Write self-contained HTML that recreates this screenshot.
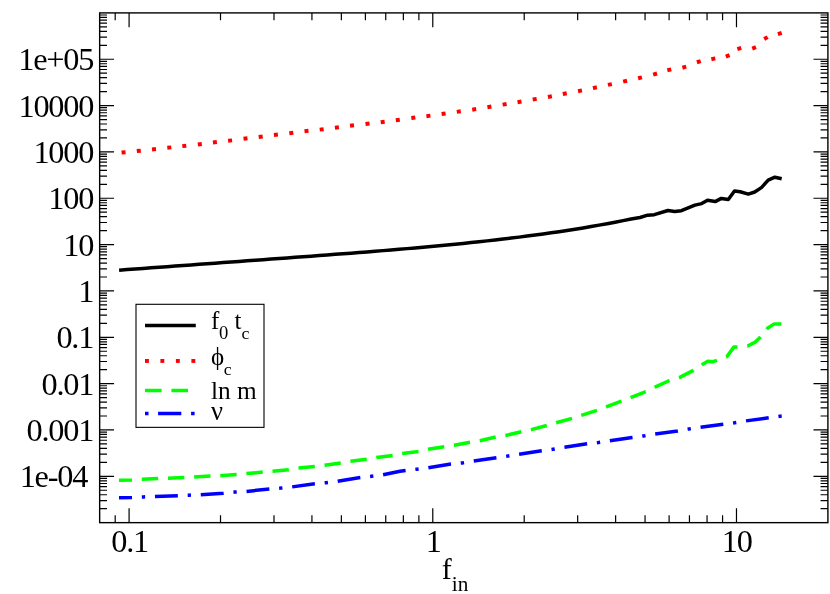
<!DOCTYPE html>
<html><head><meta charset="utf-8"><title>plot</title>
<style>html,body{margin:0;padding:0;background:#fff}svg{display:block;filter:opacity(1)}text{font-family:"Liberation Serif",serif;fill:#000}</style></head><body>
<svg width="830" height="594" viewBox="0 0 830 594">
<rect x="0" y="0" width="830" height="594" fill="#fff"/>
<path d="M115.19 522.65v-7.35M115.19 12.9v7.35M129.09 522.65v-14.4M129.09 12.9v14.4M220.51 522.65v-7.35M220.51 12.9v7.35M273.99 522.65v-7.35M273.99 12.9v7.35M311.93 522.65v-7.35M311.93 12.9v7.35M341.36 522.65v-7.35M341.36 12.9v7.35M365.41 522.65v-7.35M365.41 12.9v7.35M385.74 522.65v-7.35M385.74 12.9v7.35M403.35 522.65v-7.35M403.35 12.9v7.35M418.89 522.65v-7.35M418.89 12.9v7.35M432.78 522.65v-14.4M432.78 12.9v14.4M524.21 522.65v-7.35M524.21 12.9v7.35M577.68 522.65v-7.35M577.68 12.9v7.35M615.63 522.65v-7.35M615.63 12.9v7.35M645.06 522.65v-7.35M645.06 12.9v7.35M669.10 522.65v-7.35M669.10 12.9v7.35M689.44 522.65v-7.35M689.44 12.9v7.35M707.05 522.65v-7.35M707.05 12.9v7.35M722.58 522.65v-7.35M722.58 12.9v7.35M736.48 522.65v-14.4M736.48 12.9v14.4M99.66 508.70h7.35M827.9 508.70h-7.35M99.66 500.54h7.35M827.9 500.54h-7.35M99.66 494.75h7.35M827.9 494.75h-7.35M99.66 490.26h7.35M827.9 490.26h-7.35M99.66 486.59h7.35M827.9 486.59h-7.35M99.66 483.49h7.35M827.9 483.49h-7.35M99.66 480.80h7.35M827.9 480.80h-7.35M99.66 478.43h7.35M827.9 478.43h-7.35M99.66 476.31h14.4M827.9 476.31h-14.4M99.66 462.36h7.35M827.9 462.36h-7.35M99.66 454.20h7.35M827.9 454.20h-7.35M99.66 448.41h7.35M827.9 448.41h-7.35M99.66 443.92h7.35M827.9 443.92h-7.35M99.66 440.25h7.35M827.9 440.25h-7.35M99.66 437.15h7.35M827.9 437.15h-7.35M99.66 434.46h7.35M827.9 434.46h-7.35M99.66 432.09h7.35M827.9 432.09h-7.35M99.66 429.97h14.4M827.9 429.97h-14.4M99.66 416.02h7.35M827.9 416.02h-7.35M99.66 407.86h7.35M827.9 407.86h-7.35M99.66 402.07h7.35M827.9 402.07h-7.35M99.66 397.58h7.35M827.9 397.58h-7.35M99.66 393.91h7.35M827.9 393.91h-7.35M99.66 390.81h7.35M827.9 390.81h-7.35M99.66 388.12h7.35M827.9 388.12h-7.35M99.66 385.75h7.35M827.9 385.75h-7.35M99.66 383.63h14.4M827.9 383.63h-14.4M99.66 369.68h7.35M827.9 369.68h-7.35M99.66 361.52h7.35M827.9 361.52h-7.35M99.66 355.73h7.35M827.9 355.73h-7.35M99.66 351.24h7.35M827.9 351.24h-7.35M99.66 347.57h7.35M827.9 347.57h-7.35M99.66 344.46h7.35M827.9 344.46h-7.35M99.66 341.78h7.35M827.9 341.78h-7.35M99.66 339.41h7.35M827.9 339.41h-7.35M99.66 337.29h14.4M827.9 337.29h-14.4M99.66 323.34h7.35M827.9 323.34h-7.35M99.66 315.18h7.35M827.9 315.18h-7.35M99.66 309.39h7.35M827.9 309.39h-7.35M99.66 304.90h7.35M827.9 304.90h-7.35M99.66 301.23h7.35M827.9 301.23h-7.35M99.66 298.12h7.35M827.9 298.12h-7.35M99.66 295.44h7.35M827.9 295.44h-7.35M99.66 293.07h7.35M827.9 293.07h-7.35M99.66 290.95h14.4M827.9 290.95h-14.4M99.66 277.00h7.35M827.9 277.00h-7.35M99.66 268.84h7.35M827.9 268.84h-7.35M99.66 263.05h7.35M827.9 263.05h-7.35M99.66 258.55h7.35M827.9 258.55h-7.35M99.66 254.89h7.35M827.9 254.89h-7.35M99.66 251.78h7.35M827.9 251.78h-7.35M99.66 249.10h7.35M827.9 249.10h-7.35M99.66 246.72h7.35M827.9 246.72h-7.35M99.66 244.60h14.4M827.9 244.60h-14.4M99.66 230.65h7.35M827.9 230.65h-7.35M99.66 222.49h7.35M827.9 222.49h-7.35M99.66 216.70h7.35M827.9 216.70h-7.35M99.66 212.21h7.35M827.9 212.21h-7.35M99.66 208.54h7.35M827.9 208.54h-7.35M99.66 205.44h7.35M827.9 205.44h-7.35M99.66 202.75h7.35M827.9 202.75h-7.35M99.66 200.38h7.35M827.9 200.38h-7.35M99.66 198.26h14.4M827.9 198.26h-14.4M99.66 184.31h7.35M827.9 184.31h-7.35M99.66 176.15h7.35M827.9 176.15h-7.35M99.66 170.36h7.35M827.9 170.36h-7.35M99.66 165.87h7.35M827.9 165.87h-7.35M99.66 162.20h7.35M827.9 162.20h-7.35M99.66 159.10h7.35M827.9 159.10h-7.35M99.66 156.41h7.35M827.9 156.41h-7.35M99.66 154.04h7.35M827.9 154.04h-7.35M99.66 151.92h14.4M827.9 151.92h-14.4M99.66 137.97h7.35M827.9 137.97h-7.35M99.66 129.81h7.35M827.9 129.81h-7.35M99.66 124.02h7.35M827.9 124.02h-7.35M99.66 119.53h7.35M827.9 119.53h-7.35M99.66 115.86h7.35M827.9 115.86h-7.35M99.66 112.76h7.35M827.9 112.76h-7.35M99.66 110.07h7.35M827.9 110.07h-7.35M99.66 107.70h7.35M827.9 107.70h-7.35M99.66 105.58h14.4M827.9 105.58h-14.4M99.66 91.63h7.35M827.9 91.63h-7.35M99.66 83.47h7.35M827.9 83.47h-7.35M99.66 77.68h7.35M827.9 77.68h-7.35M99.66 73.19h7.35M827.9 73.19h-7.35M99.66 69.52h7.35M827.9 69.52h-7.35M99.66 66.42h7.35M827.9 66.42h-7.35M99.66 63.73h7.35M827.9 63.73h-7.35M99.66 61.36h7.35M827.9 61.36h-7.35M99.66 59.24h14.4M827.9 59.24h-14.4M99.66 45.29h7.35M827.9 45.29h-7.35M99.66 37.13h7.35M827.9 37.13h-7.35M99.66 31.34h7.35M827.9 31.34h-7.35M99.66 26.85h7.35M827.9 26.85h-7.35M99.66 23.18h7.35M827.9 23.18h-7.35M99.66 20.08h7.35M827.9 20.08h-7.35M99.66 17.39h7.35M827.9 17.39h-7.35M99.66 15.02h7.35M827.9 15.02h-7.35" stroke="#000" stroke-width="1.2" fill="none"/>
<rect x="99.66" y="12.9" width="728.24" height="509.75" fill="none" stroke="#000" stroke-width="1.4"/>
<text x="93.2" y="70.24" font-size="32.3" letter-spacing="-1.2" text-anchor="end">1e+05</text>
<text x="93.2" y="116.58" font-size="32.3" letter-spacing="-1.2" text-anchor="end">10000</text>
<text x="93.2" y="162.92" font-size="32.3" letter-spacing="-1.2" text-anchor="end">1000</text>
<text x="93.2" y="209.26" font-size="32.3" letter-spacing="-1.2" text-anchor="end">100</text>
<text x="93.2" y="255.60" font-size="32.3" letter-spacing="-1.2" text-anchor="end">10</text>
<text x="93.2" y="301.95" font-size="32.3" letter-spacing="-1.2" text-anchor="end">1</text>
<text x="93.2" y="348.29" font-size="32.3" letter-spacing="-1.2" text-anchor="end">0.1</text>
<text x="93.2" y="394.63" font-size="32.3" letter-spacing="-1.2" text-anchor="end">0.01</text>
<text x="93.2" y="440.97" font-size="32.3" letter-spacing="-1.2" text-anchor="end">0.001</text>
<text x="87.2" y="487.31" font-size="32.3" letter-spacing="-1.2" text-anchor="end">1e-04</text>
<text x="129.69" y="551.6" font-size="32.3" letter-spacing="-1.2" text-anchor="middle">0.1</text>
<text x="433.18" y="551.6" font-size="32.3" letter-spacing="-1.2" text-anchor="middle">1</text>
<text x="736.68" y="551.6" font-size="32.3" letter-spacing="-1.2" text-anchor="middle">10</text>
<text x="441.8" y="579.3" font-size="30">f<tspan font-size="21.3" dy="12">in</tspan></text>
<path d="M119.10 270.16L127.10 269.58L135.10 268.99L143.10 268.41L151.10 267.82L159.10 267.24L167.10 266.65L175.10 266.07L183.10 265.48L191.10 264.90L199.10 264.31L207.10 263.73L215.10 263.15L223.10 262.57L231.10 261.99L239.10 261.41L247.10 260.83L255.10 260.25L263.10 259.67L271.10 259.09L279.10 258.50L287.10 257.92L295.10 257.34L303.10 256.75L311.10 256.16L319.10 255.57L327.10 254.97L335.10 254.37L343.10 253.76L351.10 253.15L359.10 252.53L367.10 251.90L375.10 251.26L383.10 250.62L391.10 249.96L399.10 249.30L407.10 248.62L415.10 247.92L423.10 247.22L431.10 246.49L439.10 245.75L447.10 244.99L455.10 244.22L463.10 243.42L471.10 242.60L479.10 241.75L487.10 240.88L495.10 239.99L503.10 239.06L511.10 238.11L519.10 237.12L527.10 236.10L535.10 235.05L543.10 233.96L551.10 232.83L559.10 231.66L567.10 230.45L575.10 229.20L583.10 227.90L591.10 226.55L599.10 225.15L607.10 223.70L615.10 222.19L623.10 220.63L631.10 219.01L640.00 217.50L647.60 215.20L654.30 214.70L668.00 210.50L674.70 211.50L681.40 210.70L694.90 205.10L701.70 203.60L707.50 200.30L715.20 201.60L721.30 198.40L728.30 199.50L734.50 191.00L740.20 191.80L748.30 194.10L754.70 192.00L761.40 187.60L768.20 180.10L774.90 177.20L781.70 178.70" stroke="#000" stroke-width="3.5" fill="none" stroke-linejoin="round"/>
<path d="M119.00 480.20L131.90 479.90L141.70 479.30L158.10 478.60L167.80 478.30L184.20 477.50L194.00 477.10L210.50 476.10L220.10 475.80L236.50 474.40L246.40 473.60L262.70 472.10L272.40 471.30L288.80 469.70L298.40 468.00L314.80 466.50L324.40 465.30L340.80 463.00L350.50 461.30L366.80 459.30L376.50 457.40L392.80 455.40L402.20 453.40L418.60 451.50L428.20 449.20L444.20 446.70L454.20 445.30L470.00 442.20L479.90 440.70L496.00 437.00L505.50 435.50L521.60 431.70L531.20 429.60L547.00 425.50L556.20 422.80L572.00 418.40L581.30 415.30L597.10 410.30L606.20 406.80L621.60 401.00L630.50 397.60L646.30 391.40L655.00 387.10L669.50 380.50L679.80 377.40L693.40 370.40L702.40 364.40L707.80 361.30L712.90 361.70L716.90 360.40L726.80 356.80L734.00 346.90L737.10 346.90L747.60 346.00L754.80 342.40L760.20 337.30L767.50 328.30L774.30 323.90L781.60 323.90" stroke="#0f0" stroke-width="3.5" fill="none" stroke-linejoin="round" stroke-dasharray="16.4 9.8" stroke-dashoffset="3.4"/>
<path d="M119.00 497.70L132.00 497.40L143.40 496.90L154.90 496.50L177.80 495.70L189.20 495.20L200.70 494.70L223.50 493.30L235.00 492.10L246.40 491.40L269.30 489.00L280.60 488.10L292.00 486.90L314.80 483.80L326.10 482.70L337.50 481.30L360.30 477.60L371.60 476.30L383.00 474.80L400.00 471.30L416.80 469.20L428.20 467.70L450.90 464.00L462.30 462.90L473.70 461.10L496.40 457.70L507.80 456.10L519.20 454.20L540.00 451.10L553.00 449.20L564.30 447.30L587.10 443.80L598.40 442.50L609.80 440.80L632.20 437.50L643.70 435.90L655.00 434.05L677.80 431.00L689.00 428.90L700.20 427.20L723.20 424.20L734.60 422.70L745.80 420.90L768.70 417.80L780.10 416.20L781.90 416.00" stroke="#00f" stroke-width="3.5" fill="none" stroke-linejoin="round" stroke-dasharray="22.93 9.82 3.3 9.82" stroke-dashoffset="9.9"/>
<g fill="#f00"><rect x="-2" y="-2" width="4" height="4" transform="translate(123.55 152.40) rotate(-5.8)"/><rect x="-2" y="-2" width="4" height="4" transform="translate(138.80 150.90) rotate(-6.0)"/><rect x="-2" y="-2" width="4" height="4" transform="translate(154.00 149.20) rotate(-6.2)"/><rect x="-2" y="-2" width="4" height="4" transform="translate(169.30 147.60) rotate(-6.2)"/><rect x="-2" y="-2" width="4" height="4" transform="translate(184.30 145.90) rotate(-6.4)"/><rect x="-2" y="-2" width="4" height="4" transform="translate(199.80 144.20) rotate(-6.9)"/><rect x="-2" y="-2" width="4" height="4" transform="translate(214.90 142.20) rotate(-6.8)"/><rect x="-2" y="-2" width="4" height="4" transform="translate(230.10 140.60) rotate(-6.7)"/><rect x="-2" y="-2" width="4" height="4" transform="translate(245.50 138.60) rotate(-7.3)"/><rect x="-2" y="-2" width="4" height="4" transform="translate(260.70 136.70) rotate(-7.1)"/><rect x="-2" y="-2" width="4" height="4" transform="translate(275.90 134.80) rotate(-7.1)"/><rect x="-2" y="-2" width="4" height="4" transform="translate(291.30 132.90) rotate(-7.1)"/><rect x="-2" y="-2" width="4" height="4" transform="translate(306.50 131.00) rotate(-6.6)"/><rect x="-2" y="-2" width="4" height="4" transform="translate(321.70 129.40) rotate(-6.8)"/><rect x="-2" y="-2" width="4" height="4" transform="translate(336.90 127.40) rotate(-7.3)"/><rect x="-2" y="-2" width="4" height="4" transform="translate(352.00 125.50) rotate(-6.7)"/><rect x="-2" y="-2" width="4" height="4" transform="translate(367.50 123.80) rotate(-6.7)"/><rect x="-2" y="-2" width="4" height="4" transform="translate(382.70 121.90) rotate(-7.1)"/><rect x="-2" y="-2" width="4" height="4" transform="translate(397.80 120.00) rotate(-7.6)"/><rect x="-2" y="-2" width="4" height="4" transform="translate(413.30 117.80) rotate(-7.6)"/><rect x="-2" y="-2" width="4" height="4" transform="translate(428.40 115.90) rotate(-7.7)"/><rect x="-2" y="-2" width="4" height="4" transform="translate(443.60 113.70) rotate(-8.1)"/><rect x="-2" y="-2" width="4" height="4" transform="translate(458.80 111.60) rotate(-8.0)"/><rect x="-2" y="-2" width="4" height="4" transform="translate(474.20 109.40) rotate(-8.7)"/><rect x="-2" y="-2" width="4" height="4" transform="translate(489.40 106.90) rotate(-9.5)"/><rect x="-2" y="-2" width="4" height="4" transform="translate(504.60 104.30) rotate(-9.4)"/><rect x="-2" y="-2" width="4" height="4" transform="translate(519.50 101.90) rotate(-9.6)"/><rect x="-2" y="-2" width="4" height="4" transform="translate(534.70 99.20) rotate(-9.9)"/><rect x="-2" y="-2" width="4" height="4" transform="translate(549.90 96.60) rotate(-10.4)"/><rect x="-2" y="-2" width="4" height="4" transform="translate(564.80 93.70) rotate(-10.9)"/><rect x="-2" y="-2" width="4" height="4" transform="translate(580.00 90.80) rotate(-11.3)"/><rect x="-2" y="-2" width="4" height="4" transform="translate(594.90 87.70) rotate(-11.9)"/><rect x="-2" y="-2" width="4" height="4" transform="translate(609.90 84.50) rotate(-12.1)"/><rect x="-2" y="-2" width="4" height="4" transform="translate(625.10 81.20) rotate(-12.5)"/><rect x="-2" y="-2" width="4" height="4" transform="translate(640.00 77.80) rotate(-13.4)"/><rect x="-2" y="-2" width="4" height="4" transform="translate(655.10 74.05) rotate(-15.3)"/><rect x="-2" y="-2" width="4" height="4" transform="translate(669.30 69.80) rotate(-13.2)"/><rect x="-2" y="-2" width="4" height="4" transform="translate(684.30 67.20) rotate(-15.4)"/><rect x="-2" y="-2" width="4" height="4" transform="translate(698.80 61.70) rotate(-16.2)"/><rect x="-2" y="-2" width="4" height="4" transform="translate(713.30 58.80) rotate(-11.3)"/><rect x="-2" y="-2" width="4" height="4" transform="translate(727.70 55.90) rotate(-21.6)"/><rect x="-2" y="-2" width="4" height="4" transform="translate(739.30 48.50) rotate(-17.1)"/><rect x="-2" y="-2" width="4" height="4" transform="translate(754.10 47.80) rotate(-21.4)"/><rect x="-2" y="-2" width="4" height="4" transform="translate(765.90 38.10) rotate(-29.1)"/><rect x="-2" y="-2" width="4" height="4" transform="translate(779.80 33.50) rotate(-17.9)"/></g>
<rect x="136.0" y="304.3" width="128.0" height="123.05" fill="#fff" stroke="#000" stroke-width="1.1"/>
<path d="M145 325.4H195.8" stroke="#000" stroke-width="3.5"/>
<g fill="#f00"><rect x="145" y="359.0" width="3.9" height="3.9"/><rect x="160.4" y="359.0" width="3.9" height="3.9"/><rect x="175.9" y="359.0" width="3.9" height="3.9"/><rect x="191.4" y="359.0" width="3.9" height="3.9"/></g>
<path d="M145 390.6H161.6M171.4 390.6H188.0" stroke="#0f0" stroke-width="3.5"/>
<path d="M145 413.6H148.5M158.1 413.6H181.3M191.1 413.6H194.6" stroke="#00f" stroke-width="3.5"/>
<text x="211" y="328.9" font-size="25">f<tspan font-size="18.6" dx="-0.3" dy="10">0</tspan><tspan dy="-10"> t</tspan><tspan font-size="17.75" dy="10">c</tspan></text>
<text x="211" y="364.9" font-size="25">&#x3d5;<tspan font-size="17.75" dx="-0.4" dy="9.6">c</tspan></text>
<text x="211" y="398.8" font-size="25.3">ln m</text>
<text x="211" y="419.9" font-size="26.5">&#x3bd;</text>
</svg></body></html>
